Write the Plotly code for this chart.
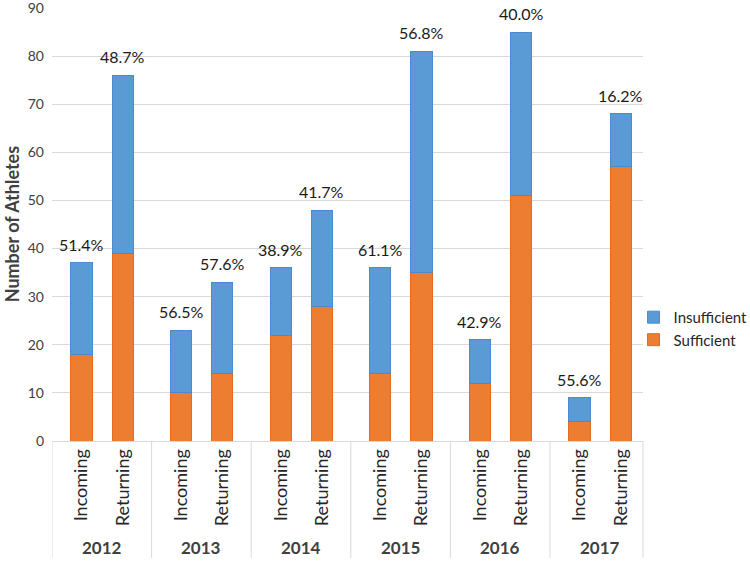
import plotly.graph_objects as go

years = ["2012", "2013", "2014", "2015", "2016", "2017"]
groups = ["Incoming", "Returning"]
sufficient = [18, 39, 10, 14, 22, 28, 14, 35, 12, 51, 4, 57]
insufficient = [19, 37, 13, 19, 14, 20, 22, 46, 9, 34, 5, 11]

BLUE = "#5B9BD5"
ORANGE = "#ED7D31"
FONT = "Lato"

# positions: group index + offset within group
offsets = [0.296, 0.71]
xs = []
ticktext = []
for gi, _ in enumerate(years):
    for si, g in enumerate(groups):
        xs.append(gi + offsets[si])
        ticktext.append(g)

totals = [s + i for s, i in zip(sufficient, insufficient)]
pct = [f"{i / t * 100:.1f}%" for i, t in zip(insufficient, totals)]

fig = go.Figure()
fig.add_trace(go.Bar(x=xs, y=sufficient, name="Sufficient", width=0.212,
                     marker=dict(color=ORANGE, line=dict(color="#E8691F", width=1))))
fig.add_trace(go.Bar(x=xs, y=insufficient, name="Insufficient", width=0.212,
                     marker=dict(color=BLUE, line=dict(color="#4A8BCF", width=1))))

annotations = []
for x, t, p in zip(xs, totals, pct):
    annotations.append(dict(x=x, y=t, text=p, showarrow=False, yanchor="bottom",
                            yshift=7, font=dict(family=FONT, size=16, color="#1a1a1a")))
for gi, y in enumerate(years):
    annotations.append(dict(x=gi + 0.5, xref="x", y=-0.247, yref="paper", text=f"<b>{y}</b>",
                            showarrow=False, yanchor="middle", xanchor="center",
                            font=dict(family=FONT, size=17, color="#404040")))
annotations.append(dict(x=-0.068, xref="paper", y=0.5, yref="paper", xanchor="center",
                        yanchor="middle",
                        text="<b>Number of Athletes</b>", textangle=-90, showarrow=False,
                        font=dict(family=FONT, size=18, color="#404040")))

shapes = []
for gi in range(len(years)):
    shapes.append(dict(type="line", xref="x", yref="paper", x0=gi, x1=gi, y0=0, y1=-0.27,
                       line=dict(color="#d9d9d9", width=1)))
shapes.append(dict(type="line", xref="paper", yref="paper", x0=1, x1=1, y0=0, y1=-0.27,
                   line=dict(color="#d9d9d9", width=1)))

fig.update_layout(
    barmode="stack",
    width=750, height=561,
    margin=dict(l=52, r=107, t=8, b=120, autoexpand=False),
    plot_bgcolor="white", paper_bgcolor="white",
    font=dict(family=FONT, color="#404040"),
    showlegend=True,
    legend=dict(x=0.984, y=0.26, xanchor="left", yanchor="middle", traceorder="reversed",
                font=dict(family=FONT, size=15, color="#262626"), tracegroupgap=0,
                itemwidth=30, bgcolor="rgba(0,0,0,0)"),
    annotations=annotations,
    shapes=shapes,
)
fig.update_xaxes(range=[0, 5.934], tickvals=xs, ticktext=ticktext, tickangle=-90,
                 showgrid=False, zeroline=False, showline=True, linecolor="#d9d9d9",
                 ticks="", automargin=False, tickfont=dict(family=FONT, size=18, color="#262626"))
fig.update_yaxes(range=[0, 90], dtick=10, showgrid=True, gridcolor="#d9d9d9", gridwidth=1,
                 zeroline=False, showline=False, ticks="", ticklabelstandoff=7, automargin=False,
                 ticklabeloverflow="allow",
                 tickfont=dict(family=FONT, size=14, color="#404040"))

fig.write_html("out.html", config={"displayModeBar": False},
               post_script="document.body.style.margin='0';document.body.style.padding='0';")
